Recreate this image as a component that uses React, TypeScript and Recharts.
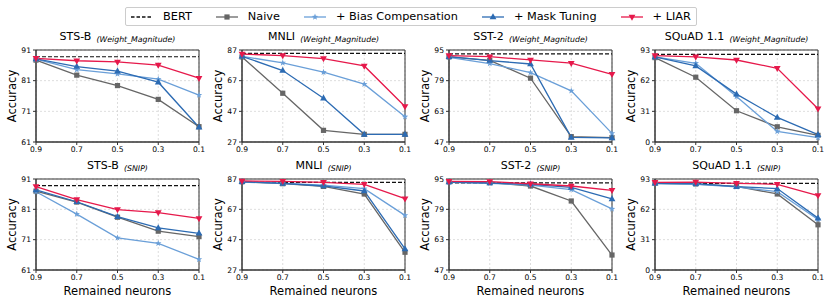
import {
  LineChart,
  Line,
  XAxis,
  YAxis,
  CartesianGrid,
  ReferenceLine,
  ReferenceArea
} from "recharts";

const ratios = [0.9, 0.7, 0.5, 0.3, 0.1];
const tasks = ["STS-B", "MNLI", "SST-2", "SQuAD 1.1"];
const methods = ["Weight_Magnitude", "SNIP"];
const yTicks = [
  [61, 71, 81, 91],
  [27, 47, 67, 87],
  [47, 63, 79, 95],
  [0, 31, 62, 93]
];
const bertScore = [88.8, 84.8, 93.0, 88.5];

// Weight_Magnitude row
const wmNaive = [
  [87.7, 82.8, 79.4, 74.9, 66.0],
  [82.5, 58.8, 34.6, 32.0, 32.0],
  [91.4, 89.6, 80.3, 49.8, 49.3],
  [85.3, 65.5, 31.6, 15.4, 6.7]
];
const wmBias = [
  [88.0, 84.6, 83.2, 81.5, 76.3],
  [82.9, 78.6, 72.5, 64.7, 43.5],
  [91.2, 87.9, 83.2, 73.7, 51.5],
  [86.0, 79.6, 46.0, 10.7, 4.4]
];
const wmMask = [
  [88.1, 85.6, 84.1, 80.5, 65.8],
  [82.9, 73.6, 55.6, 32.0, 32.0],
  [91.5, 89.5, 87.7, 49.4, 49.1],
  [86.0, 76.9, 48.4, 24.8, 7.4]
];
const wmLiar = [
  [88.3, 87.5, 87.1, 86.1, 81.8],
  [84.4, 83.3, 81.4, 76.6, 50.2],
  [92.1, 91.5, 89.8, 88.1, 82.3],
  [87.3, 86.0, 82.9, 74.5, 33.6]
];

// SNIP row
const snipNaive = [
  [87.0, 83.4, 78.4, 73.8, 72.0],
  [85.2, 83.9, 82.1, 77.1, 38.7],
  [93.6, 93.1, 91.3, 83.4, 54.9],
  [88.6, 87.9, 85.5, 77.7, 46.2]
];
const snipBias = [
  [86.8, 79.4, 71.6, 69.8, 64.5],
  [85.0, 84.1, 83.0, 80.6, 63.0],
  [93.2, 92.7, 91.8, 89.4, 79.2],
  [88.3, 87.6, 84.9, 80.1, 51.6]
];
const snipMask = [
  [87.4, 83.5, 78.6, 74.9, 73.1],
  [85.2, 84.1, 82.4, 79.1, 40.9],
  [93.4, 92.9, 92.2, 90.6, 84.5],
  [88.6, 88.3, 85.2, 83.2, 53.0]
];
const snipLiar = [
  [88.5, 84.2, 80.9, 79.9, 78.0],
  [85.7, 85.5, 84.8, 83.5, 74.0],
  [93.8, 93.6, 92.5, 91.3, 89.0],
  [89.6, 89.9, 88.6, 87.6, 76.1]
];

const FONT = "'DejaVu Sans', sans-serif";

const series = [
  { key: "naive", name: "Naive", color: "#666666", shape: "square" },
  { key: "bias", name: "+ Bias Compensation", color: "#6a9fd8", shape: "star" },
  { key: "mask", name: "+ Mask Tuning", color: "#2c6bb3", shape: "up" },
  { key: "liar", name: "+ LIAR", color: "#e6194b", shape: "down" }
];

const rowData = [
  { naive: wmNaive, bias: wmBias, mask: wmMask, liar: wmLiar },
  { naive: snipNaive, bias: snipBias, mask: snipMask, liar: snipLiar }
];

const plotLeft = [36, 242, 449, 655];
const plotWidth = 163;
const plotTop = [50, 179];
const plotHeight = [92, 91];

function markerShape(shape: string, color: string, cx: number, cy: number, key?: any) {
  if (shape === "square") {
    return <rect key={key} x={cx - 2.6} y={cy - 2.6} width={5.2} height={5.2} fill={color} />;
  }
  if (shape === "star") {
    const pts = [];
    for (let k = 0; k < 10; k++) {
      const r = k % 2 === 0 ? 3.4 : 1.4;
      const a = -Math.PI / 2 + (k * Math.PI) / 5;
      pts.push(`${cx + r * Math.cos(a)},${cy + r * Math.sin(a)}`);
    }
    return <polygon key={key} points={pts.join(" ")} fill={color} />;
  }
  if (shape === "up") {
    return (
      <polygon
        key={key}
        points={`${cx},${cy - 3.7} ${cx + 3.4},${cy + 2.3} ${cx - 3.4},${cy + 2.3}`}
        fill={color}
      />
    );
  }
  return (
    <polygon
      key={key}
      points={`${cx},${cy + 3.7} ${cx + 3.4},${cy - 2.3} ${cx - 3.4},${cy - 2.3}`}
      fill={color}
    />
  );
}

function dotRenderer(shape: string, color: string) {
  return (props: any) => {
    const { cx, cy, index } = props;
    if (cx == null || cy == null) return <g key={index} />;
    return markerShape(shape, color, cx, cy, index);
  };
}

function Panel({ row, col }: { row: number; col: number }) {
  const src: any = rowData[row];
  const data = ratios.map((r, i) => ({
    ratio: r,
    naive: src.naive[col][i],
    bias: src.bias[col][i],
    mask: src.mask[col][i],
    liar: src.liar[col][i]
  }));
  const ticks = yTicks[col];
  const yMin = ticks[0];
  const yMax = ticks[ticks.length - 1];
  const bottom = row === 1;
  const xAxisH = bottom ? 28 : 14;
  const mTop = 6;
  const mRight = 10;
  const yAxisW = 36;

  return (
    <div
      style={{
        position: "absolute",
        left: plotLeft[col] - yAxisW,
        top: plotTop[row] - mTop
      }}
    >
      <LineChart
        width={yAxisW + plotWidth + mRight}
        height={mTop + plotHeight[row] + xAxisH}
        data={data}
        margin={{ top: mTop, right: mRight, bottom: 0, left: 0 }}
        style={{ fontFamily: FONT }}
      >
        <CartesianGrid stroke="#d4d4d4" strokeDasharray="2 2" strokeWidth={0.8} />
        <XAxis
          dataKey="ratio"
          type="number"
          domain={[0.1, 0.9]}
          reversed
          ticks={ratios}
          tickFormatter={(v: number) => v.toFixed(1)}
          height={xAxisH}
          tickSize={3}
          tickMargin={2}
          tick={{ fontSize: 7.6, fill: "#000" }}
          axisLine={{ stroke: "#333" }}
          tickLine={{ stroke: "#333" }}
          label={
            bottom
              ? {
                  value: "Remained neurons",
                  position: "insideBottom",
                  offset: 3,
                  style: { fontSize: 11.5, fill: "#000" }
                }
              : undefined
          }
        />
        <YAxis
          type="number"
          domain={[yMin, yMax]}
          ticks={ticks}
          interval={0}
          width={yAxisW}
          tickSize={3}
          tickMargin={2}
          tick={{ fontSize: 7.6, fill: "#000" }}
          axisLine={{ stroke: "#333" }}
          tickLine={{ stroke: "#333" }}
          label={{
            value: "Accuracy",
            angle: -90,
            position: "insideLeft",
            offset: 12,
            style: { textAnchor: "middle", fontSize: 11.5, fill: "#000" }
          }}
        />
        <ReferenceArea
          x1={0.1}
          x2={0.9}
          y1={yMin}
          y2={yMax}
          fill="none"
          stroke="#333"
          strokeWidth={1}
          ifOverflow="visible"
        />
        <ReferenceLine
          y={bertScore[col]}
          stroke="#111"
          strokeWidth={1.2}
          strokeDasharray="4 2"
        />
        {series.map((s) => (
          <Line
            key={s.key}
            dataKey={s.key}
            stroke={s.color}
            strokeWidth={1.3}
            dot={dotRenderer(s.shape, s.color)}
            activeDot={false}
            isAnimationActive={false}
          />
        ))}
      </LineChart>
      <div
        style={{
          position: "absolute",
          left: yAxisW,
          width: plotWidth,
          top: -17,
          height: 16,
          lineHeight: "16px",
          textAlign: "center",
          fontFamily: FONT,
          whiteSpace: "nowrap",
          color: "#000"
        }}
      >
        <span style={{ fontSize: 11 }}>{tasks[col]}</span>{" "}
        <span style={{ fontSize: 7.8, fontStyle: "italic", verticalAlign: "-1.5px" }}>
          ({methods[row]})
        </span>
      </div>
    </div>
  );
}

function LegendIcon({ shape, color }: { shape?: string; color: string }) {
  return (
    <svg width={22} height={10} style={{ display: "block" }}>
      <line
        x1={0}
        y1={5}
        x2={22}
        y2={5}
        stroke={color}
        strokeWidth={1.3}
        strokeDasharray={shape ? undefined : "3.5 2"}
      />
      {shape ? markerShape(shape, color, 11, 5) : null}
    </svg>
  );
}

export default function App() {
  const legendItems = [{ name: "BERT", color: "#111", shape: undefined as any }].concat(
    series.map((s) => ({ name: s.name, color: s.color, shape: s.shape }))
  );

  return (
    <div
      style={{
        position: "absolute",
        left: 0,
        top: 0,
        width: 830,
        height: 303,
        background: "#fff",
        fontFamily: FONT,
        overflow: "hidden"
      }}
    >
      <div
        style={{
          position: "absolute",
          left: 125,
          top: 7,
          height: 19,
          boxSizing: "border-box",
          border: "1px solid #cccccc",
          borderRadius: 2,
          display: "flex",
          alignItems: "center",
          padding: "0 5px 0 5px",
          fontSize: 11.3,
          color: "#000",
          whiteSpace: "nowrap"
        }}
      >
        {legendItems.map((it, i) => (
          <div
            key={it.name}
            style={{
              display: "flex",
              alignItems: "center",
              marginLeft: i === 0 ? 0 : 24
            }}
          >
            <LegendIcon shape={it.shape} color={it.color} />
            <span style={{ marginLeft: 10 }}>{it.name}</span>
          </div>
        ))}
      </div>

      {[0, 1].map((row) =>
        [0, 1, 2, 3].map((col) => (
          <Panel key={`${row}-${col}`} row={row} col={col} />
        ))
      )}
    </div>
  );
}
